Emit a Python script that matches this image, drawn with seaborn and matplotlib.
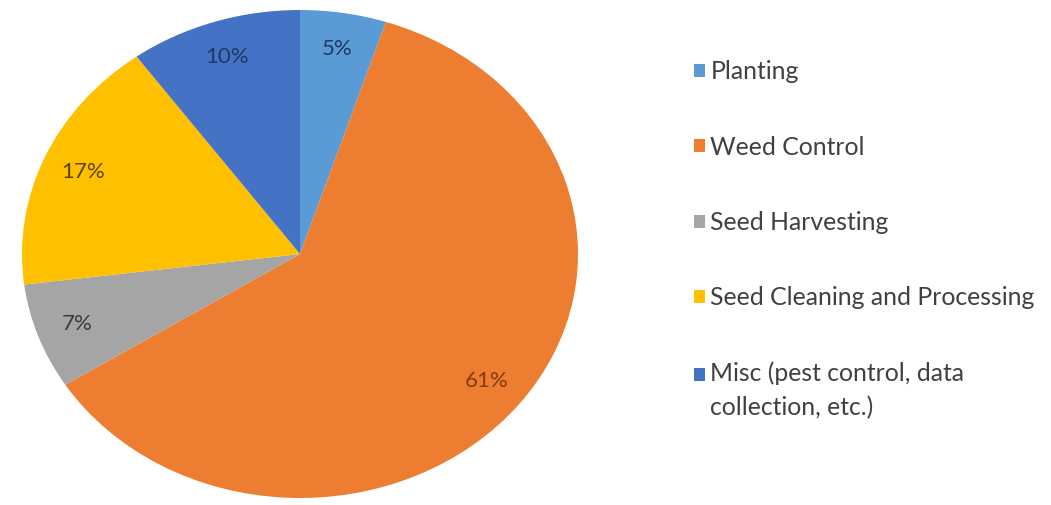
import matplotlib
matplotlib.use("Agg")
import matplotlib.pyplot as plt
import seaborn as sns

categories = ["Planting", "Weed Control", "Seed Harvesting",
              "Seed Cleaning and Processing", "Misc (pest control, data\ncollection, etc.)"]
shares = [5, 61, 7, 17, 10]
wedge_colors = ["#5B9BD5", "#ED7D31", "#A5A5A5", "#FFC000", "#4472C4"]
label_colors = ["#1F3864", "#843C0C", "#3A3A3A", "#5A4500", "#1F3864"]

sns.set_theme(style="white")
plt.rcParams["font.family"] = ["Lato", "DejaVu Sans"]
palette = sns.color_palette(wedge_colors)

fig = plt.figure(figsize=(10.51, 5.05), dpi=100)
ax = fig.add_axes([22 / 1051, 7 / 505, 556 / 1051, 488 / 505])

wedges, texts, autotexts = ax.pie(
    shares, colors=palette, startangle=90, counterclock=False,
    autopct="%d%%", pctdistance=0.85,
    wedgeprops=dict(edgecolor="none"),
    textprops=dict(fontsize=16),
)
for t, c in zip(autotexts, label_colors):
    t.set_color(c)
ax.set_aspect("auto")
ax.set_xlim(-1, 1)
ax.set_ylim(-1, 1)
ax.axis("off")

leg = fig.legend(wedges, categories, loc="upper left",
                 bbox_to_anchor=(672 / 1051, 1 - 38 / 505),
                 frameon=False, fontsize=17.8, handlelength=0.45, handleheight=0.45,
                 handletextpad=0.2, labelspacing=2.12, labelcolor="#404040")
leg.get_texts()[-1].set_linespacing(1.55)
# put the Misc marker next to the first line, as in the original
misc_handle = leg.legend_handles[-1]
misc_handle.set_y(misc_handle.get_y() + 12.2)

fig.savefig("out.png", dpi=100)
